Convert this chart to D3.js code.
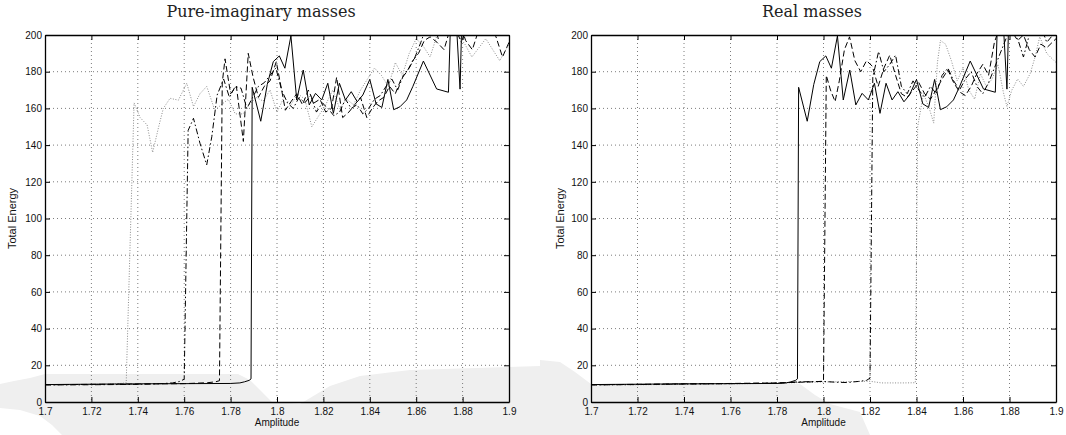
<!DOCTYPE html>
<html>
<head>
<meta charset="utf-8">
<script src="https://cdn.jsdelivr.net/npm/d3@7"></script>
<style>
  html, body { margin: 0; padding: 0; background: #fff; }
  svg { display: block; }
</style>
</head>
<body>
<svg id="chart" width="1066" height="435"></svg>
<script>
// ---- panel titles and axis text ----
const panelTitles = ["Pure-imaginary masses", "Real masses"];
const xLabel = "Amplitude";
const yLabel = "Total Energy";

// ---- tick values and labels ----
const xTicks = [1.70, 1.72, 1.74, 1.76, 1.78, 1.80, 1.82, 1.84, 1.86, 1.88, 1.90];
const xTickLabels = ["1.7", "1.72", "1.74", "1.76", "1.78", "1.8", "1.82", "1.84", "1.86", "1.88", "1.9"];
const yTicks = [0, 20, 40, 60, 80, 100, 120, 140, 160, 180, 200];
const yTickLabels = ["0", "20", "40", "60", "80", "100", "120", "140", "160", "180", "200"];

// ---- solid curve (identical in both panels) ----
const ampSolid = [1.700, 1.720, 1.740, 1.760, 1.780, 1.784, 1.786, 1.7880, 1.7888, 1.7893, 1.7930, 1.7958, 1.7984, 1.8010, 1.8034, 1.8060, 1.8085, 1.8113, 1.8139, 1.8166, 1.8193, 1.8219, 1.8243, 1.8269, 1.8295, 1.8320, 1.8346, 1.8370, 1.8400, 1.8427, 1.8452, 1.8478, 1.8503, 1.8530, 1.8559, 1.8585, 1.8631, 1.8688, 1.8739, 1.8750, 1.8765, 1.8789, 1.8800, 1.8830, 1.8860, 1.8890, 1.8920, 1.8950, 1.9000];
const energySolid = [9.5, 9.7, 9.9, 10.0, 10.1, 10.4, 11.0, 11.8, 12.6, 171.5, 153.0, 173.0, 185.5, 188.6, 181.9, 199.5, 164.6, 180.9, 161.9, 168.2, 164.6, 173.7, 157.3, 173.7, 164.6, 169.1, 163.6, 167.3, 175.8, 162.5, 160.5, 175.8, 159.3, 160.9, 164.6, 171.8, 185.8, 170.6, 168.8, 215, 225, 170.5, 225, 240, 235, 230, 240, 230, 232];

// ---- pure-imaginary masses: dashed ----
const ampImagDashed = [1.700, 1.720, 1.740, 1.760, 1.770, 1.7735, 1.7752, 1.7764, 1.7776, 1.7800, 1.7825, 1.7855, 1.7876, 1.7897, 1.7920, 1.7945, 1.7970, 1.7997, 1.8020, 1.8036, 1.8060, 1.8085, 1.8110, 1.8135, 1.8160, 1.8185, 1.8210, 1.8235, 1.8257, 1.8283, 1.8310, 1.8335, 1.8360, 1.8387, 1.8410, 1.8435, 1.8460, 1.8485, 1.8510, 1.8535, 1.8560, 1.8585, 1.8610, 1.8635, 1.8660, 1.8690, 1.8720, 1.8750, 1.8780, 1.8813, 1.8842, 1.8870, 1.8900, 1.8944, 1.8972, 1.9000];
const energyImagDashed = [9.4, 9.6, 9.8, 10.0, 10.5, 11.0, 11.6, 174, 187, 168, 172, 142, 190, 177, 166, 172, 175, 185.5, 170, 159, 163.6, 168, 162, 170, 163, 165, 158, 160, 177, 155, 158, 162, 166, 155, 160, 164, 166, 172, 168, 176, 180, 186, 190, 197, 199, 196, 192, 205, 210, 197, 192, 203, 208, 199, 188, 196];

// ---- pure-imaginary masses: dash-dot ----
const ampImagDashDot = [1.700, 1.720, 1.740, 1.750, 1.755, 1.758, 1.7600, 1.7617, 1.7640, 1.7668, 1.7697, 1.7719, 1.7742, 1.7770, 1.7795, 1.7820, 1.7845, 1.7870, 1.7895, 1.7920, 1.7945, 1.7970, 1.7995, 1.8020, 1.8045, 1.8070, 1.8095, 1.8120, 1.8145, 1.8170, 1.8195, 1.8220, 1.8245, 1.8270, 1.8295, 1.8320, 1.8345, 1.8370, 1.8395, 1.8420, 1.8445, 1.8470, 1.8495, 1.8520, 1.8545, 1.8570, 1.8595, 1.8620, 1.8645, 1.8670, 1.8695, 1.8720, 1.8745, 1.8770, 1.8795, 1.8820, 1.8845, 1.8870, 1.8895, 1.8920, 1.8950, 1.9000];
const energyImagDashDot = [9.3, 9.4, 9.6, 10.0, 10.4, 11.2, 12.4, 148, 154.6, 141, 129.2, 144.6, 167.3, 176, 166, 172, 171, 160, 166, 172, 174, 178, 182, 170, 163, 160, 166, 163, 167, 158, 163, 160, 156, 158, 165, 160, 162, 157, 160, 165, 167, 172, 176, 170, 178, 182, 188, 196, 205, 210, 198, 206, 214, 203, 196, 205, 212, 200, 210, 215, 206, 212];

// ---- pure-imaginary masses: dotted ----
const ampImagDotted = [1.700, 1.720, 1.730, 1.7350, 1.7384, 1.7410, 1.7440, 1.7464, 1.7490, 1.7510, 1.7539, 1.7575, 1.7611, 1.7640, 1.7668, 1.7697, 1.7732, 1.7760, 1.7790, 1.7820, 1.7854, 1.7880, 1.7910, 1.7940, 1.7970, 1.8000, 1.8030, 1.8060, 1.8090, 1.8120, 1.8150, 1.8180, 1.8210, 1.8240, 1.8270, 1.8300, 1.8330, 1.8360, 1.8390, 1.8420, 1.8450, 1.8480, 1.8510, 1.8540, 1.8570, 1.8600, 1.8630, 1.8660, 1.8690, 1.8720, 1.8750, 1.8780, 1.8810, 1.8840, 1.8870, 1.8900, 1.8930, 1.8960, 1.9000];
const energyImagDotted = [9.3, 9.5, 9.8, 10.4, 163, 155, 151, 136, 150, 160, 165.5, 164.5, 173.7, 161, 168, 172, 159, 162, 165, 157, 157, 162, 166, 164, 170, 158, 166, 162, 168, 165, 150, 156, 162, 170, 160, 165, 162, 170, 176, 182, 178, 172, 185, 178, 190, 198, 194, 188, 200, 205, 210, 200, 195, 188, 193, 198, 192, 186, 195];

// ---- real masses: dashed ----
const ampRealDashed = [1.700, 1.720, 1.740, 1.760, 1.780, 1.7900, 1.7950, 1.8000, 1.8012, 1.8030, 1.8050, 1.8068, 1.8090, 1.8112, 1.8135, 1.8160, 1.8185, 1.8210, 1.8235, 1.8260, 1.8285, 1.8310, 1.8335, 1.8360, 1.8385, 1.8410, 1.8435, 1.8460, 1.8485, 1.8510, 1.8535, 1.8560, 1.8585, 1.8610, 1.8635, 1.8660, 1.8685, 1.8710, 1.8735, 1.8760, 1.8785, 1.8810, 1.8835, 1.8860, 1.8885, 1.8910, 1.8935, 1.8960, 1.9000];
const energyRealDashed = [9.4, 9.6, 9.9, 10.1, 10.4, 10.8, 11.0, 11.3, 178, 170, 163.7, 175, 192, 199, 186, 180, 186, 183, 172, 182, 189, 178, 168, 166, 170, 174, 168, 165, 170, 176, 181, 174, 169, 167, 172, 179, 184, 178, 196, 205, 210, 202, 197, 200, 192, 188, 195, 193, 198];

// ---- real masses: dash-dot ----
const ampRealDashDot = [1.700, 1.720, 1.740, 1.760, 1.780, 1.790, 1.800, 1.805, 1.810, 1.815, 1.8185, 1.8200, 1.8212, 1.8237, 1.8260, 1.8285, 1.8310, 1.8335, 1.8360, 1.8385, 1.8410, 1.8435, 1.8460, 1.8485, 1.8510, 1.8535, 1.8560, 1.8585, 1.8610, 1.8635, 1.8660, 1.8685, 1.8710, 1.8735, 1.8760, 1.8785, 1.8810, 1.8835, 1.8860, 1.8885, 1.8910, 1.8935, 1.8960, 1.9000];
const energyRealDashDot = [9.3, 9.5, 9.8, 10.0, 10.3, 11.0, 11.2, 10.8, 10.6, 11.2, 11.8, 13.0, 177, 191, 180, 184, 189, 172, 168, 175, 170, 166, 172, 168, 178, 182, 175, 170, 176, 180, 172, 168, 174, 182, 190, 198, 205, 198, 188, 200, 210, 205, 196, 202];

// ---- real masses: dotted ----
const ampRealDotted = [1.700, 1.720, 1.740, 1.760, 1.780, 1.790, 1.800, 1.810, 1.820, 1.825, 1.830, 1.835, 1.8395, 1.8405, 1.8430, 1.8455, 1.8474, 1.8490, 1.8503, 1.8525, 1.8550, 1.8575, 1.8600, 1.8625, 1.8650, 1.8675, 1.8700, 1.8725, 1.8750, 1.8775, 1.8789, 1.8810, 1.8835, 1.8860, 1.8889, 1.8910, 1.8930, 1.8960, 1.9000];
const energyRealDotted = [9.2, 9.4, 9.6, 9.9, 10.2, 10.6, 10.9, 11.1, 11.3, 10.4, 10.4, 10.4, 10.5, 150, 168, 160, 152, 185, 197, 195, 186, 175, 182, 170, 165, 179, 172, 176, 184, 168, 161, 170, 176, 172, 179, 188, 199, 190, 185];

// ---- line styles ----
const styles = {
  solid:   { stroke: "#000", width: 1.0, dash: null },
  dashed:  { stroke: "#000", width: 1.0, dash: "6,3" },
  dashdot: { stroke: "#000", width: 1.0, dash: "6,2.5,1.5,2.5" },
  dotted:  { stroke: "#8c8c8c", width: 1.0, dash: "1,1.6" }
};

const SANS = '"Liberation Sans", Arial, Helvetica, sans-serif';
const SERIF = '"DejaVu Serif", "Liberation Serif", serif';

const zip = (a, b) => a.map((v, i) => [v, b[i]]);

const panels = [
  {
    title: panelTitles[0], left: 45, right: 509, titleX: 261, ylabX: 16,
    series: [
      { style: "dotted", pts: zip(ampImagDotted, energyImagDotted) },
      { style: "dashdot", pts: zip(ampImagDashDot, energyImagDashDot) },
      { style: "dashed", pts: zip(ampImagDashed, energyImagDashed) },
      { style: "solid", pts: zip(ampSolid, energySolid) }
    ]
  },
  {
    title: panelTitles[1], left: 591, right: 1056, titleX: 812, ylabX: 564,
    series: [
      { style: "dotted", pts: zip(ampRealDotted, energyRealDotted) },
      { style: "dashdot", pts: zip(ampRealDashDot, energyRealDashDot) },
      { style: "dashed", pts: zip(ampRealDashed, energyRealDashed) },
      { style: "solid", pts: zip(ampSolid, energySolid) }
    ]
  }
];

const plotTop = 35, plotBottom = 402;
const svg = d3.select("#chart");

// faint grey paper smudges along the bottom edge
const smudge = svg.append("g").attr("fill", "#efefef");
smudge.append("path").attr("d",
  "M0,384 L14,381 L30,378 L45,374 L238,374 L250,380 L262,392 L272,402 L300,404 L330,386 L360,376 L410,370 L540,366 L540,435 L62,435 L52,425 L40,416 L20,410 L0,408 Z");
smudge.append("path").attr("d",
  "M540,360 L560,362 L575,372 L591,384 L800,384 L815,395 L830,404 L860,412 L870,435 L540,435 Z");

panels.forEach((p, pi) => {
  const x = d3.scaleLinear().domain([1.7, 1.9]).range([p.left, p.right]);
  const y = d3.scaleLinear().domain([0, 200]).range([plotBottom, plotTop]);
  const g = svg.append("g");

  // dotted grid
  const grid = g.append("g").attr("stroke", "#5a5a5a").attr("stroke-width", 0.8)
    .attr("stroke-dasharray", "1,3");
  grid.selectAll("line.gx").data(xTicks.slice(1, -1)).join("line")
    .attr("class", "gx")
    .attr("x1", d => x(d)).attr("x2", d => x(d))
    .attr("y1", plotTop).attr("y2", plotBottom);
  grid.selectAll("line.gy").data(yTicks.slice(1, -1)).join("line")
    .attr("class", "gy")
    .attr("x1", p.left).attr("x2", p.right)
    .attr("y1", d => y(d)).attr("y2", d => y(d));

  // clip to the axes box
  const clipId = "clip" + pi;
  svg.append("clipPath").attr("id", clipId).append("rect")
    .attr("x", p.left).attr("y", plotTop)
    .attr("width", p.right - p.left).attr("height", plotBottom - plotTop);

  const line = d3.line().x(d => x(d[0])).y(d => y(d[1]));
  const lines = g.append("g").attr("clip-path", `url(#${clipId})`);
  p.series.forEach(s => {
    const st = styles[s.style];
    lines.append("path")
      .datum(s.pts)
      .attr("d", line)
      .attr("fill", "none")
      .attr("stroke", st.stroke)
      .attr("stroke-width", st.width)
      .attr("stroke-linejoin", "round")
      .attr("stroke-dasharray", st.dash);
  });

  // axes with inward ticks on all four sides
  const fmtX = d => xTickLabels[xTicks.indexOf(d)];
  const fmtY = d => yTickLabels[yTicks.indexOf(d)];
  const axB = g.append("g").attr("transform", `translate(0,${plotBottom})`)
    .call(d3.axisBottom(x).tickValues(xTicks).tickFormat(fmtX).tickSizeInner(-5).tickSizeOuter(0).tickPadding(6));
  const axL = g.append("g").attr("transform", `translate(${p.left},0)`)
    .call(d3.axisLeft(y).tickValues(yTicks).tickFormat(fmtY).tickSizeInner(-5).tickSizeOuter(0).tickPadding(3));
  const axT = g.append("g").attr("transform", `translate(0,${plotTop})`)
    .call(d3.axisTop(x).tickValues(xTicks).tickFormat("").tickSizeInner(-5).tickSizeOuter(0));
  const axR = g.append("g").attr("transform", `translate(${p.right},0)`)
    .call(d3.axisRight(y).tickValues(yTicks).tickFormat("").tickSizeInner(-5).tickSizeOuter(0));
  [axB, axL, axT, axR].forEach(a => {
    a.select(".domain").attr("stroke", "#000").attr("stroke-width", 1.3);
    a.selectAll(".tick line").attr("stroke", "#000").attr("stroke-width", 1);
    a.selectAll(".tick text").attr("fill", "#111")
      .style("font-family", SANS).style("font-size", "10px");
  });

  // axis labels
  g.append("text")
    .attr("x", (p.left + p.right) / 2).attr("y", 426)
    .attr("text-anchor", "middle").attr("fill", "#111")
    .style("font-family", SANS).style("font-size", "10px")
    .text(xLabel);
  g.append("text")
    .attr("transform", `translate(${p.ylabX},${(plotTop + plotBottom) / 2}) rotate(-90)`)
    .attr("text-anchor", "middle").attr("fill", "#111")
    .style("font-family", SANS).style("font-size", "11px")
    .text(yLabel);

  // panel title
  g.append("text")
    .attr("x", p.titleX).attr("y", 17)
    .attr("text-anchor", "middle").attr("fill", "#222")
    .style("font-family", SERIF).style("font-size", "16px")
    .text(p.title);
});
</script>
</body>
</html>
